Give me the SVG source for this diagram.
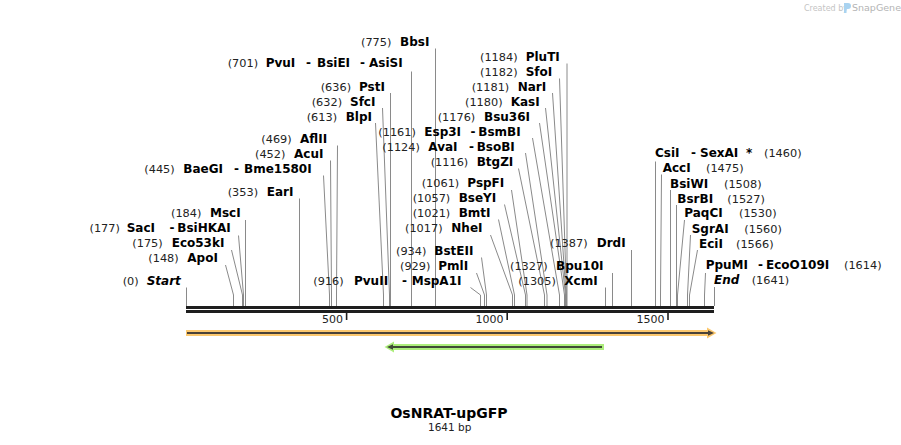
<svg xmlns="http://www.w3.org/2000/svg" width="901" height="445" viewBox="0 0 901 445">
<style>
text{font-family:"DejaVu Sans",Verdana,sans-serif}
.n{font-size:11.3px;fill:#222}
.b{font-size:12px;font-weight:bold;fill:#000}
.i{font-size:12px;font-weight:bold;font-style:italic;fill:#000}
.cut{fill:none;stroke:#8a8a8a;stroke-width:1}
.tk{font-size:11px;fill:#222}
</style>
<rect width="901" height="445" fill="#fff"/>
<g id="watermark">
<text x="804" y="11" style="font-size:8px;fill:#c4c4c4">Created by</text>
<path d="M844,3 h4 a3,3 0 0 1 0,6 h-1.5 v4 h-2.5 z" fill="#a9d3f0"/>
<text x="852" y="11" style="font-size:9.5px;fill:#b4b4b4">SnapGene</text>
</g>
<g id="connectors">
<path class="cut" d="M435.5,48.5V306"/>
<path class="cut" d="M411.5,71.5V306"/>
<path class="cut" d="M390.5,93V306"/>
<path class="cut" d="M382.5,108L389.5,295V306"/>
<path class="cut" d="M375.5,123L383.5,295V306"/>
<path class="cut" d="M337.5,145.5L336.5,295V306"/>
<path class="cut" d="M330.5,160.5L331.5,295V306"/>
<path class="cut" d="M323.5,175.5L329.5,295V306"/>
<path class="cut" d="M299.5,198.5V306"/>
<path class="cut" d="M245.5,220V306"/>
<path class="cut" d="M238.5,235.5L243.5,295V306"/>
<path class="cut" d="M231.5,250L242.5,295V306"/>
<path class="cut" d="M225.5,265L233.5,295V306"/>
<path class="cut" d="M186.5,287.5V306"/>
<path class="cut" d="M470.5,287.5L480.5,295V306"/>
<path class="cut" d="M476.5,273L484.5,295V306"/>
<path class="cut" d="M481.5,257.5L486.5,295V306"/>
<path class="cut" d="M490.5,235L512.5,295V306"/>
<path class="cut" d="M498.5,219.5L514.5,295V306"/>
<path class="cut" d="M504.5,204.5L525.5,295V306"/>
<path class="cut" d="M511.5,190L527,295V306"/>
<path class="cut" d="M518.5,168.5L544.5,295V306"/>
<path class="cut" d="M525.5,153L547,295V306"/>
<path class="cut" d="M532.5,138L559.5,295V306"/>
<path class="cut" d="M539.5,123L564.5,295V306"/>
<path class="cut" d="M545.5,108L565.5,295V306"/>
<path class="cut" d="M552.5,93L566,295V306"/>
<path class="cut" d="M559.5,78.5L566.5,295V306"/>
<path class="cut" d="M567,63.5V306"/>
<path class="cut" d="M605.5,287.5V306"/>
<path class="cut" d="M612.5,273V306"/>
<path class="cut" d="M631.5,250V306"/>
<path class="cut" d="M655.5,161.5V306"/>
<path class="cut" d="M661.5,174.5L660.5,295V306"/>
<path class="cut" d="M670.5,190V306"/>
<path class="cut" d="M676.5,205V306"/>
<path class="cut" d="M684.5,220L677.5,295V306"/>
<path class="cut" d="M690.5,235L687.5,295V306"/>
<path class="cut" d="M697.5,250L689.5,295V306"/>
<path class="cut" d="M705.5,273L704.5,295V306"/>
<path class="cut" d="M714.5,287V306"/>
</g>
<g id="backbone">
<rect x="186" y="306" width="528" height="3" fill="#1e1e1e"/>
<rect x="186" y="310" width="528" height="3" fill="#1e1e1e"/>
<rect x="345.8" y="313" width="1.6" height="7" fill="#1e1e1e"/>
<rect x="506.4" y="313" width="1.6" height="7" fill="#1e1e1e"/>
<rect x="667.2" y="313" width="1.6" height="7" fill="#1e1e1e"/>
<text class="tk" x="343" y="322.5" text-anchor="end">500</text>
<text class="tk" x="503.5" y="322.5" text-anchor="end">1000</text>
<text class="tk" x="664.5" y="322.5" text-anchor="end">1500</text>
</g>
<g id="feature-orange">
<path d="M186,330H707V327.5L716.5,333L707,338.5V336H186Z" fill="#fcc86e"/>
<rect x="187" y="332" width="522" height="2" fill="#4a4238"/>
<path d="M708,330.2L714,333L708,335.8Z" fill="#4a4238"/>
</g>
<g id="feature-green">
<path d="M604,344H394V341.5L384.5,347L394,352.5V350H604Z" fill="#adee7c"/>
<rect x="392" y="346" width="210" height="2" fill="#3f4a36"/>
<path d="M393,344.2L387,347L393,349.8Z" fill="#3f4a36"/>
</g>
<g id="e775"><text y="46"><tspan class="n" x="361">(775)</tspan><tspan class="b" x="400">BbsI</tspan></text></g>
<g id="e701"><text y="67"><tspan class="n" x="227.7">(701)</tspan><tspan class="b" x="265.7">PvuI</tspan><tspan class="b" x="306">-</tspan><tspan class="b" x="317">BsiEI</tspan><tspan class="b" x="360">-</tspan><tspan class="b" x="369">AsiSI</tspan></text></g>
<g id="e636"><text y="91"><tspan class="n" x="320.7">(636)</tspan><tspan class="b" x="359">PstI</tspan></text></g>
<g id="e632"><text y="106"><tspan class="n" x="311.7">(632)</tspan><tspan class="b" x="350">SfcI</tspan></text></g>
<g id="e613"><text y="121"><tspan class="n" x="306.7">(613)</tspan><tspan class="b" x="345.7">BlpI</tspan></text></g>
<g id="e469"><text y="143.3"><tspan class="n" x="261.3">(469)</tspan><tspan class="b" x="300">AflII</tspan></text></g>
<g id="e452"><text y="158.3"><tspan class="n" x="255">(452)</tspan><tspan class="b" x="294">AcuI</tspan></text></g>
<g id="e445"><text y="172.7"><tspan class="n" x="144.3">(445)</tspan><tspan class="b" x="183.3">BaeGI</tspan><tspan class="b" x="234">-</tspan><tspan class="b" x="244">Bme1580I</tspan></text></g>
<g id="e353"><text y="196"><tspan class="n" x="227.7">(353)</tspan><tspan class="b" x="266.7">EarI</tspan></text></g>
<g id="e184"><text y="217.3"><tspan class="n" x="171">(184)</tspan><tspan class="b" x="210">MscI</tspan></text></g>
<g id="e177"><text y="232.3"><tspan class="n" x="89.5">(177)</tspan><tspan class="b" x="126.7">SacI</tspan><tspan class="b" x="169.5">-</tspan><tspan class="b" x="177.3">BsiHKAI</tspan></text></g>
<g id="e175"><text y="247.3"><tspan class="n" x="132.3">(175)</tspan><tspan class="b" x="171.7">Eco53kI</tspan></text></g>
<g id="e148"><text y="262.3"><tspan class="n" x="148.3">(148)</tspan><tspan class="b" x="187.3">ApoI</tspan></text></g>
<g id="e0"><text y="285"><tspan class="n" x="122.7">(0)</tspan><tspan class="i" x="146.7">Start</tspan></text></g>
<g id="e916"><text y="285"><tspan class="n" x="313.3">(916)</tspan><tspan class="b" x="354">PvuII</tspan><tspan class="b" x="402">-</tspan><tspan class="b" x="411.7">MspA1I</tspan></text></g>
<g id="e929"><text y="270"><tspan class="n" x="400">(929)</tspan><tspan class="b" x="438.3">PmlI</tspan></text></g>
<g id="e934"><text y="255"><tspan class="n" x="396">(934)</tspan><tspan class="b" x="434.3">BstEII</tspan></text></g>
<g id="e1017"><text y="232.3"><tspan class="n" x="405">(1017)</tspan><tspan class="b" x="451.3">NheI</tspan></text></g>
<g id="e1021"><text y="217.3"><tspan class="n" x="412.7">(1021)</tspan><tspan class="b" x="458.7">BmtI</tspan></text></g>
<g id="e1057"><text y="202.3"><tspan class="n" x="412.7">(1057)</tspan><tspan class="b" x="458.7">BseYI</tspan></text></g>
<g id="e1061"><text y="187.3"><tspan class="n" x="421.7">(1061)</tspan><tspan class="b" x="467.3">PspFI</tspan></text></g>
<g id="e1116"><text y="165.7"><tspan class="n" x="430.7">(1116)</tspan><tspan class="b" x="476.7">BtgZI</tspan></text></g>
<g id="e1124"><text y="150.7"><tspan class="n" x="382.3">(1124)</tspan><tspan class="b" x="428.3">AvaI</tspan><tspan class="b" x="469">-</tspan><tspan class="b" x="476.7">BsoBI</tspan></text></g>
<g id="e1161"><text y="136"><tspan class="n" x="378.3">(1161)</tspan><tspan class="b" x="424.3">Esp3I</tspan><tspan class="b" x="470.5">-</tspan><tspan class="b" x="478.3">BsmBI</tspan></text></g>
<g id="e1176"><text y="121"><tspan class="n" x="437.7">(1176)</tspan><tspan class="b" x="484">Bsu36I</tspan></text></g>
<g id="e1180"><text y="106"><tspan class="n" x="465">(1180)</tspan><tspan class="b" x="510.7">KasI</tspan></text></g>
<g id="e1181"><text y="91"><tspan class="n" x="471.7">(1181)</tspan><tspan class="b" x="517.7">NarI</tspan></text></g>
<g id="e1182"><text y="75.7"><tspan class="n" x="480">(1182)</tspan><tspan class="b" x="525.7">SfoI</tspan></text></g>
<g id="e1184"><text y="60.7"><tspan class="n" x="480">(1184)</tspan><tspan class="b" x="525.7">PluTI</tspan></text></g>
<g id="e1305"><text y="285"><tspan class="n" x="518.3">(1305)</tspan><tspan class="b" x="564.3">XcmI</tspan></text></g>
<g id="e1327"><text y="270"><tspan class="n" x="510">(1327)</tspan><tspan class="b" x="556">Bpu10I</tspan></text></g>
<g id="e1387"><text y="247.3"><tspan class="n" x="550">(1387)</tspan><tspan class="b" x="596.7">DrdI</tspan></text></g>
<g id="e1460"><text y="157.3"><tspan class="b" x="655">CsiI</tspan><tspan class="b" x="691">-</tspan><tspan class="b" x="700">SexAI</tspan><tspan class="b" x="746">*</tspan><tspan class="n" x="764">(1460)</tspan></text></g>
<g id="e1475"><text y="172.3"><tspan class="b" x="662.7">AccI</tspan><tspan class="n" x="706">(1475)</tspan></text></g>
<g id="e1508"><text y="187.7"><tspan class="b" x="670">BsiWI</tspan><tspan class="n" x="724">(1508)</tspan></text></g>
<g id="e1527"><text y="202.7"><tspan class="b" x="677.3">BsrBI</tspan><tspan class="n" x="727.3">(1527)</tspan></text></g>
<g id="e1530"><text y="217.3"><tspan class="b" x="684.3">PaqCI</tspan><tspan class="n" x="739">(1530)</tspan></text></g>
<g id="e1560"><text y="232.7"><tspan class="b" x="691.7">SgrAI</tspan><tspan class="n" x="744.3">(1560)</tspan></text></g>
<g id="e1566"><text y="247.7"><tspan class="b" x="699">EciI</tspan><tspan class="n" x="736">(1566)</tspan></text></g>
<g id="e1614"><text y="269.3"><tspan class="b" x="705.7">PpuMI</tspan><tspan class="b" x="758">-</tspan><tspan class="b" x="766">EcoO109I</tspan><tspan class="n" x="844">(1614)</tspan></text></g>
<g id="e1641"><text y="284.3"><tspan class="i" x="714">End</tspan><tspan class="n" x="751.7">(1641)</tspan></text></g>
<g id="title">
<text x="449" y="417.7" text-anchor="middle" style="font-size:14px;font-weight:bold;fill:#000">OsNRAT-upGFP</text>
<text x="449.7" y="431" text-anchor="middle" style="font-size:10.5px;fill:#222">1641 bp</text>
</g>
</svg>
